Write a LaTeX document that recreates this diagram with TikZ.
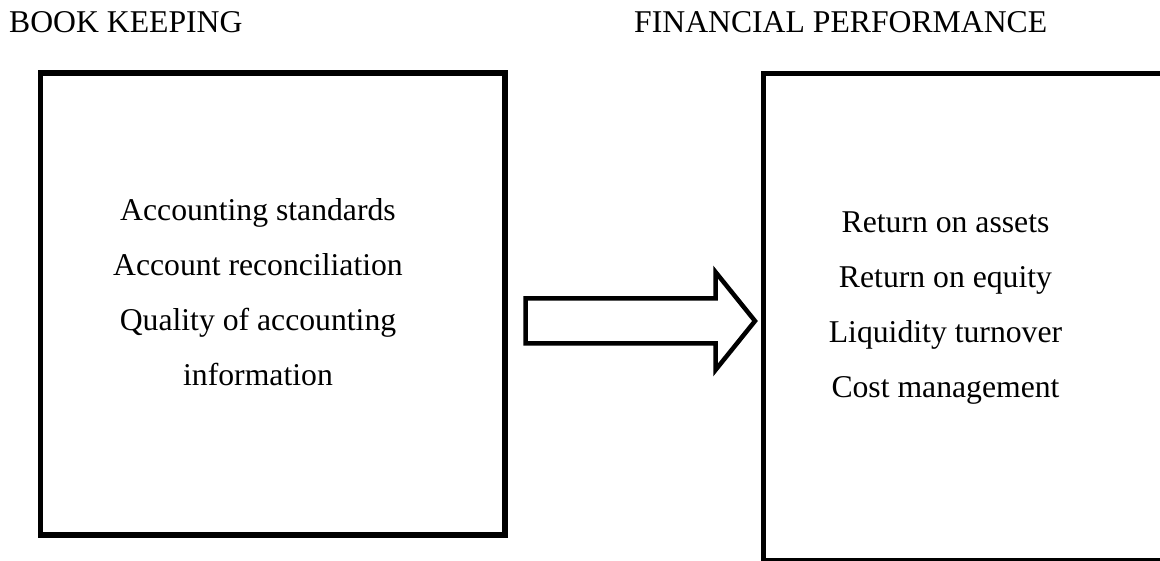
\documentclass[tikz,border=0pt]{standalone}
\usepackage{fontspec}
\setmainfont{Liberation Serif}
\begin{document}
\begin{tikzpicture}[x=1pt,y=-1pt,
  boxstyle/.style={draw=black,line width=5.5pt,rectangle,inner sep=0pt,fill=white},
  txt/.style={font=\fontsize{31.7}{55}\selectfont,align=center,inner sep=0pt,anchor=north},
  ttl/.style={font=\fontsize{31.7}{36}\selectfont,anchor=base west,inner sep=0pt},
  blockarrow/.style={draw=black,line width=4.5pt,line join=miter,fill=white}]
\useasboundingbox[fill=white] (0,0) rectangle (1160,561);
\node[ttl] (t1) at (9,33) {BOOK KEEPING};
\node[ttl] (t2) at (634,33) {FINANCIAL PERFORMANCE};
\node[boxstyle,minimum width=464.5pt,minimum height=462pt] (lb) at (272.75,304) {};
\node[boxstyle,minimum width=406.5pt,minimum height=487.5pt] (rb) at (966.75,317.25) {};
\node[txt] (lt) at (258,198.3) {Accounting standards\\Account reconciliation\\Quality of accounting\\information};
\node[txt] (rt) at (945.5,212) {Return on assets\\Return on equity\\Liquidity turnover\\Cost management};
\draw[blockarrow] (525.5,298.5) -- (715.5,298.5) -- (715.5,272) -- (755,321) -- (715.5,370) -- (715.5,343.5) -- (525.5,343.5) -- cycle;
\end{tikzpicture}
\end{document}
